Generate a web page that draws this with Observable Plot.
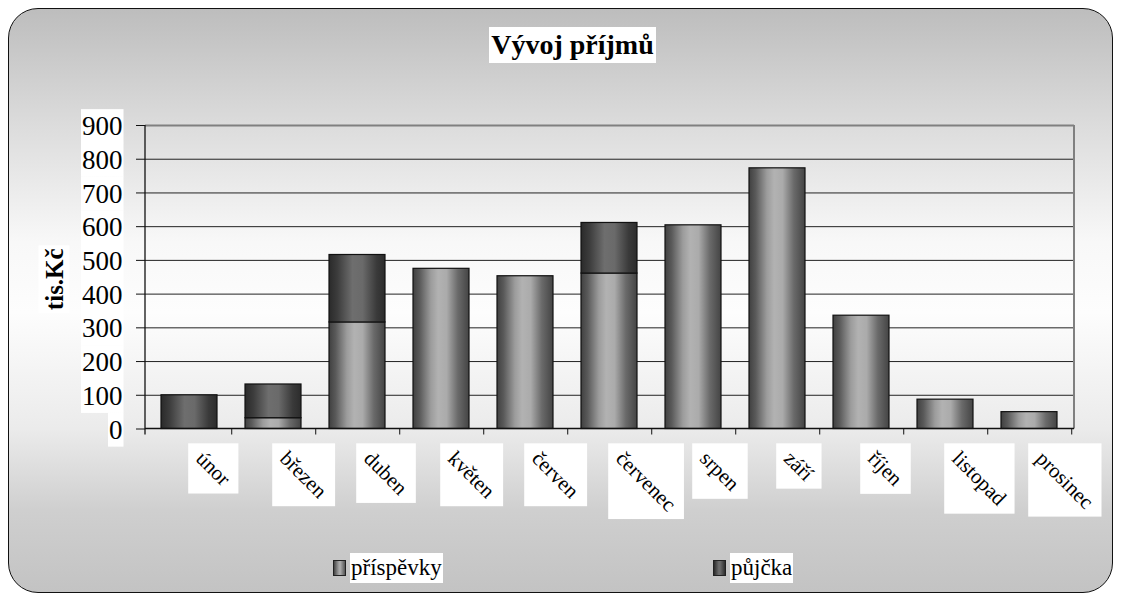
<!DOCTYPE html>
<html>
<head>
<meta charset="utf-8">
<script src="https://cdn.jsdelivr.net/npm/d3@7"></script>
<script src="https://cdn.jsdelivr.net/npm/@observablehq/plot@0.6"></script>
<style>
  body { margin: 0; background: #fff; }
  #wrap { position: relative; width: 1122px; height: 593px; overflow: hidden; font-family: "Liberation Serif", "Times New Roman", serif; }
  #panel { position: absolute; left: 8px; top: 8px; width: 1105px; height: 585px; box-sizing: border-box;
    border: 1.5px solid #111; border-radius: 30px;
    background: linear-gradient(#bdbdbd 0%, #dcdcdc 20%, #f8f8f8 40%, #fdfdfd 52%, #ebebeb 72%, #cfcfcf 86%, #c3c3c3 100%); }
  #chart { position: absolute; left: 0; top: 0; }
  #title { position: absolute; left: 489px; top: 27px; width: 167px; height: 36px; background: #fff;
    font-weight: bold; font-size: 28px; line-height: 36px; text-align: center; color: #000; white-space: nowrap; }
  .leg { position: absolute; top: 553px; height: 30px; display: flex; align-items: center; }
  .sw { width: 13px; height: 16px; border: 1px solid #222; box-sizing: border-box; margin-right: 4px; }
  .lt { background: #fff; font-size: 23px; line-height: 30px; padding: 0 1px; color: #000; }
</style>
</head>
<body>
<div id="wrap">
  <div id="panel"></div>
  <div id="chart"></div>
  <div id="title">Vývoj příjmů</div>
  <div class="leg" style="left:333px"><div class="sw" style="background:linear-gradient(90deg,#444,#9a9a9a 40%,#b0b0b0 55%,#555)"></div><div class="lt">příspěvky</div></div>
  <div class="leg" style="left:713px"><div class="sw" style="background:linear-gradient(90deg,#2a2a2a,#6e6e6e 45%,#666 60%,#2e2e2e)"></div><div class="lt">půjčka</div></div>
</div>
<script>
const months = ["únor", "březen", "duben", "květen", "červen", "červenec", "srpen", "září", "říjen", "listopad", "prosinec"];
const prispevky = [0, 32, 316, 475, 453, 461, 604, 773, 336, 87, 50];
const pujcka = [100, 100, 200, 0, 0, 150, 0, 0, 0, 0, 0];
const seriesNames = ["příspěvky", "půjčka"];
const yTicks = [0, 100, 200, 300, 400, 500, 600, 700, 800, 900];
const yLabel = "tis.Kč";

const data = months.flatMap((m, i) => [
  {month: m, series: seriesNames[0], value: prispevky[i]},
  {month: m, series: seriesNames[1], value: pujcka[i]}
]).filter(d => d.value > 0);

const W = 1122, H = 593, ML = 145, MR = 48, MT = 125, MB = 164.5;
const step = (W - ML - MR) / months.length;

function defs() {
  const d = d3.create("svg:defs");
  const mk = (id, stops) => {
    const g = d.append("linearGradient").attr("id", id).attr("x1", 0).attr("x2", 1).attr("y1", 0).attr("y2", 0);
    stops.forEach(([o, c]) => g.append("stop").attr("offset", o).attr("stop-color", c));
  };
  mk("gP", [[0, "#404040"], [0.12, "#5a5a5a"], [0.32, "#9c9c9c"], [0.45, "#b2b2b2"], [0.6, "#ababab"], [0.8, "#6a6a6a"], [1, "#444444"]]);
  mk("gJ", [[0, "#2a2a2a"], [0.15, "#3c3c3c"], [0.42, "#6e6e6e"], [0.6, "#6a6a6a"], [0.85, "#3a3a3a"], [1, "#2c2c2c"]]);
  return d.node();
}

function frameLines() {
  const g = d3.create("svg:g");
  const x0 = ML, x1 = W - MR, yT = MT, yB = H - MB;
  g.append("line").attr("x1", x1).attr("x2", x1).attr("y1", yT).attr("y2", yB).attr("stroke", "#808080").attr("stroke-width", 2);
  g.append("line").attr("x1", x0).attr("x2", x1).attr("y1", yB).attr("y2", yB).attr("stroke", "#111").attr("stroke-width", 1.3);
  g.append("line").attr("x1", x0).attr("x2", x0).attr("y1", yT).attr("y2", yB + 6).attr("stroke", "#111").attr("stroke-width", 1.3);
  return g.node();
}

const plot = Plot.plot({
  width: W, height: H,
  marginLeft: ML, marginRight: MR, marginTop: MT, marginBottom: MB,
  style: {background: "transparent", fontFamily: "'Liberation Serif', 'Times New Roman', serif", color: "#000", overflow: "visible"},
  x: {domain: months, paddingInner: 0.33, paddingOuter: 0.165, label: null},
  y: {domain: [0, 900], label: null},
  color: {domain: seriesNames, range: ["url(#gP)", "url(#gJ)"]},
  marks: [
    defs,
    Plot.ruleY(yTicks.filter(v => v > 0 && v < 900), {stroke: "#222", strokeWidth: 1}),
    Plot.ruleY([900], {stroke: "#808080", strokeWidth: 2}),
    Plot.barY(data, {x: "month", y: "value", fill: "series", stroke: "#111", strokeWidth: 1.2}),
    frameLines,
    Plot.axisY({ticks: yTicks, tickSize: 9, tickFormat: () => "", stroke: "#111", label: null}),
    Plot.axisX({tickSize: 6, tickFormat: () => "", dx: step / 2, stroke: "#111", label: null}),
    Plot.text(yTicks, {y: d => d, frameAnchor: "left", textAnchor: "end", dx: -23, dy: 1, fontSize: 27, fill: "#000"}),
    Plot.text(months, {x: d => d, y: () => 0, rotate: 45, textAnchor: "start", lineAnchor: "middle", dx: 10, dy: 26, fontSize: 21, fill: "#000"}),
    Plot.text([yLabel], {frameAnchor: "left", textAnchor: "middle", lineAnchor: "middle", dx: -91, dy: 2, rotate: -90, fontSize: 25, fontWeight: "bold", fill: "#000"})
  ]
});
document.getElementById("chart").appendChild(plot);

// white label backgrounds (decoration behind the library's text)
const svgRect = plot.getBoundingClientRect();
const tickStrs = new Set(yTicks.map(String));
const monthSet = new Set(months);
plot.querySelectorAll("text").forEach(t => {
  const s = t.textContent;
  if (!s) return;
  let padX, padY, fixedH = null;
  if (monthSet.has(s)) { padX = 3; padY = 3; }
  else if (tickStrs.has(s)) { padX = 1; padY = 0; fixedH = 34; }
  else if (s === yLabel) { padX = 2; padY = 3; }
  else return;
  const r = t.getBoundingClientRect();
  let y = r.top - svgRect.top - padY, h = r.height + 2 * padY;
  if (fixedH) { const cy = r.top - svgRect.top + r.height / 2; y = cy - fixedH / 2; h = fixedH; }
  const rect = document.createElementNS("http://www.w3.org/2000/svg", "rect");
  rect.setAttribute("x", r.left - svgRect.left - padX);
  rect.setAttribute("y", y);
  rect.setAttribute("width", r.width + 2 * padX);
  rect.setAttribute("height", h);
  rect.setAttribute("fill", "#fff");
  const g = t.parentNode;
  g.parentNode.insertBefore(rect, g);
});
</script>
</body>
</html>
